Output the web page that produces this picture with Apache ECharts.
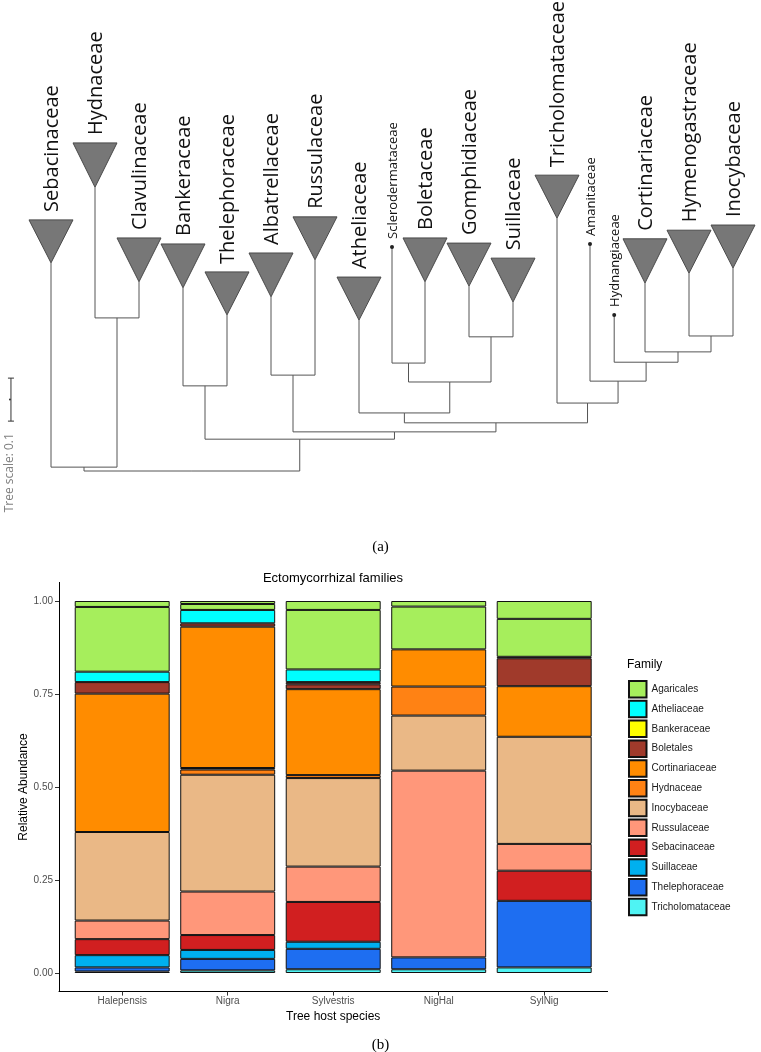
<!DOCTYPE html>
<html>
<head>
<meta charset="utf-8">
<title>Ectomycorrhizal families</title>
<script src="https://cdn.jsdelivr.net/npm/echarts@6.0.0/dist/echarts.min.js"></script>
<style>
  html, body { margin: 0; padding: 0; background: #fff; }
  #chart { width: 761px; height: 1052px; }
</style>
</head>
<body>
<div id="chart"></div>
<script>
// ---------- (a) phylogenetic tree ----------
const leafNames = ['Sebacinaceae', 'Hydnaceae', 'Clavulinaceae', 'Bankeraceae', 'Thelephoraceae',
  'Albatrellaceae', 'Russulaceae', 'Atheliaceae', 'Sclerodermataceae', 'Boletaceae', 'Gomphidiaceae',
  'Suillaceae', 'Tricholomataceae', 'Amanitaceae', 'Hydnangiaceae', 'Cortinariaceae',
  'Hymenogastraceae', 'Inocybaceae'];
// order of the leaves along the tree (one slot per collapsed clade)
const leafSlot = [0, 1, 2, 3, 4, 5, 6, 7, 7.75, 8.5, 9.5, 10.5, 11.5, 12.25, 12.8, 13.5, 14.5, 15.5];
// distance from root to leaf tip, and to the top of the collapsed clade (null = single taxon)
const tipDepth = [0.484, 0.660, 0.440, 0.426, 0.363, 0.405, 0.491, 0.351, 0.521, 0.440, 0.430,
  0.393, 0.588, 0.528, 0.363, 0.437, 0.460, 0.472];
const cladeDepth = [0.584, 0.763, 0.542, 0.528, 0.463, 0.507, 0.591, 0.451, null, 0.542, 0.530,
  0.495, 0.688, null, null, 0.540, 0.560, 0.572];
// internal nodes: [id, child A, child B, depth]
const treeNodes = [
  ['n1', 'Hydnaceae', 'Clavulinaceae', 0.356],
  ['n2', 'Sebacinaceae', 'n1', 0.009],
  ['n3', 'Bankeraceae', 'Thelephoraceae', 0.198],
  ['n4', 'Albatrellaceae', 'Russulaceae', 0.223],
  ['n5', 'Sclerodermataceae', 'Boletaceae', 0.251],
  ['n6', 'Gomphidiaceae', 'Suillaceae', 0.312],
  ['n7', 'n5', 'n6', 0.207],
  ['n8', 'Atheliaceae', 'n7', 0.135],
  ['n9', 'Hymenogastraceae', 'Inocybaceae', 0.314],
  ['n10', 'Cortinariaceae', 'n9', 0.277],
  ['n11', 'Hydnangiaceae', 'n10', 0.253],
  ['n12', 'Amanitaceae', 'n11', 0.209],
  ['n13', 'Tricholomataceae', 'n12', 0.158],
  ['n14', 'n8', 'n13', 0.112],
  ['n15', 'n4', 'n14', 0.091],
  ['n16', 'n3', 'n15', 0.074],
  ['root', 'n2', 'n16', 0]
];
const treeScale = 0.1;
const scaleBarSlot = -0.91;
const scaleBarBase = 0.116;

// ---------- (b) stacked bars ----------
const hosts = ['Halepensis', 'Nigra', 'Sylvestris', 'NigHal', 'SylNig'];
const families = ['Agaricales', 'Atheliaceae', 'Bankeraceae', 'Boletales', 'Cortinariaceae',
  'Hydnaceae', 'Inocybaceae', 'Russulaceae', 'Sebacinaceae', 'Suillaceae', 'Thelephoraceae',
  'Tricholomataceae'];
const familyColors = ['#A6EE5C', '#00FFFF', '#FFFF00', '#A03A2B', '#FF8C00', '#FF8214',
  '#EAB886', '#FF977A', '#D11F20', '#00B0EF', '#1E6EF1', '#4FF3F3'];
// OTU segments per host (Halepensis .. SylNig), bottom to top inside each family
const agaricales       = [[0.174, 0.016], [0.016, 0.008], [0.160, 0.024], [0.115, 0.015], [0.102, 0.048]];
const atheliaceae      = [[0.028], [0.036], [0.034], [], []];
const bankeraceae      = [[], [], [], [], []];
const boletales        = [[0.031], [0.009], [0.013, 0.006], [], [0.075, 0.004]];
const cortinariaceae   = [[0.372], [0.004, 0.380], [0.231], [0.100], [0.136]];
const hydnaceae        = [[], [0.014], [0.008], [0.078], []];
const inocybaceae      = [[0.238], [0.314], [0.238], [0.148], [0.288]];
const russulaceae      = [[0.050], [0.117], [0.095], [0.502], [0.072]];
const sebacinaceae     = [[0.043], [0.040], [0.107], [], [0.081]];
const suillaceae       = [[0.033], [0.024], [0.019], [], []];
const thelephoraceae   = [[0.004, 0.011], [0.031], [0.055], [0.032], [0.179]];
const tricholomataceae = [[], [0.007], [0.010], [0.010], [0.015]];
const segments = [agaricales, atheliaceae, bankeraceae, boletales, cortinariaceae, hydnaceae,
  inocybaceae, russulaceae, sebacinaceae, suillaceae, thelephoraceae, tricholomataceae];
const yTicks = [0, 0.25, 0.5, 0.75, 1];

// tree layout: parent sits midway between its children
const nodeById = {};
leafNames.forEach((n, i) => { nodeById[n] = { x: leafSlot[i], d: tipDepth[i] }; });
const branchData = [];
treeNodes.forEach(([id, a, b, depth]) => {
  const A = nodeById[a], B = nodeById[b];
  const node = { x: (A.x + B.x) / 2, d: depth };
  nodeById[id] = node;
  branchData.push([A.x, A.d, node.x, depth], [B.x, B.d, node.x, depth]);
});
const cladeData = [], dotData = [], labelData = [];
leafNames.forEach((n, i) => {
  if (cladeDepth[i] !== null) cladeData.push([leafSlot[i], tipDepth[i], cladeDepth[i]]);
  else dotData.push([leafSlot[i], tipDepth[i]]);
  labelData.push([leafSlot[i], cladeDepth[i] !== null ? cladeDepth[i] : tipDepth[i]]);
});

// one bar series per OTU slot, stacked bottom (Tricholomataceae) to top (Agaricales)
const barSeries = [];
for (let f = families.length - 1; f >= 0; f--) {
  const seg = segments[f];
  const n = Math.max(1, ...seg.map(s => s.length));
  for (let k = 0; k < n; k++) {
    barSeries.push({
      name: families[f],
      type: 'bar',
      stack: 'abund',
      xAxisIndex: 1,
      yAxisIndex: 1,
      barWidth: '90%',
      data: seg.map(s => (s[k] === undefined ? '-' : s[k])),
      itemStyle: { color: familyColors[f], borderColor: '#111', borderWidth: 1 },
      emphasis: { disabled: true }
    });
  }
}

const treeLine = '#555';
const sans = 'Liberation Sans';

const chart = echarts.init(document.getElementById('chart'));
chart.setOption({
  animation: false,
  backgroundColor: '#fff',
  title: [
    { text: 'Ectomycorrhizal families', left: 333, top: 572, textAlign: 'center', padding: 0,
      textStyle: { fontFamily: sans, fontSize: 13, fontWeight: 'normal', color: '#000' } },
    { text: 'Family', left: 627, top: 659, padding: 0,
      textStyle: { fontFamily: sans, fontSize: 12, fontWeight: 'normal', color: '#000' } },
    { text: '(a)', left: 380.5, top: 540, textAlign: 'center', padding: 0,
      textStyle: { fontFamily: 'Liberation Serif', fontSize: 15, fontWeight: 'normal', color: '#000' } },
    { text: '(b)', left: 380.5, top: 1038, textAlign: 'center', padding: 0,
      textStyle: { fontFamily: 'Liberation Serif', fontSize: 15, fontWeight: 'normal', color: '#000' } }
  ],
  legend: {
    data: families,
    orient: 'vertical',
    left: 628,
    top: 680,
    padding: 0,
    itemWidth: 17.5,
    itemHeight: 16.5,
    itemGap: 1.3,
    icon: 'rect',
    selectedMode: false,
    textStyle: { fontFamily: sans, fontSize: 10, color: '#1a1a1a' }
  },
  grid: [
    { left: 59, top: 582.4, width: 548.6, height: 409.2, outerBoundsMode: 'none' },
    { left: 69.45, top: 582.4, width: 527.5, height: 409.2, outerBoundsMode: 'none' },
    { left: 7, top: 41, width: 748, height: 430, outerBoundsMode: 'none' }
  ],
  xAxis: [
    { gridIndex: 0, type: 'value', min: 0, max: 1,
      axisLine: { show: true, onZero: false, lineStyle: { color: '#000', width: 1 } },
      axisTick: { show: false }, axisLabel: { show: false }, splitLine: { show: false } },
    { gridIndex: 1, type: 'category', data: hosts,
      axisLine: { show: false, onZero: false },
      axisTick: { show: true, alignWithLabel: true, length: 4, lineStyle: { color: '#333' } },
      axisLabel: { margin: 5, fontFamily: sans, fontSize: 10, color: '#4d4d4d' },
      splitLine: { show: false },
      name: 'Tree host species', nameLocation: 'middle', nameGap: 19, nameMoveOverlap: false,
      nameTextStyle: { fontFamily: sans, fontSize: 12, color: '#000' } },
    { gridIndex: 2, type: 'value', min: -1, max: 16, show: false }
  ],
  yAxis: [
    { gridIndex: 0, type: 'value', min: -0.05, max: 1.05,
      axisLine: { show: true, onZero: false, lineStyle: { color: '#000', width: 1 } },
      axisTick: { show: true, length: 4, customValues: yTicks, lineStyle: { color: '#333' } },
      axisLabel: { customValues: yTicks, formatter: v => v.toFixed(2), margin: 6,
        fontFamily: sans, fontSize: 10, color: '#4d4d4d' },
      splitLine: { show: false },
      name: 'Relative Abundance', nameLocation: 'middle', nameRotate: 90, nameGap: 29,
      nameMoveOverlap: false,
      nameTextStyle: { fontFamily: sans, fontSize: 12, color: '#000' } },
    { gridIndex: 1, type: 'value', min: -0.05, max: 1.05, show: false },
    { gridIndex: 2, type: 'value', min: 0, max: 1, show: false }
  ],
  series: [
    {
      type: 'custom', name: 'branches', coordinateSystem: 'cartesian2d',
      xAxisIndex: 2, yAxisIndex: 2, clip: false, silent: true,
      data: branchData,
      renderItem: (params, api) => {
        const p1 = api.coord([api.value(0), api.value(1)]);
        const p2 = api.coord([api.value(0), api.value(3)]);
        const p3 = api.coord([api.value(2), api.value(3)]);
        return { type: 'polyline', shape: { points: [p1, p2, p3] },
          style: { stroke: treeLine, lineWidth: 1, fill: null } };
      }
    },
    {
      type: 'custom', name: 'clades', coordinateSystem: 'cartesian2d',
      xAxisIndex: 2, yAxisIndex: 2, clip: false, silent: true,
      data: cladeData,
      renderItem: (params, api) => {
        const x = api.value(0);
        const a = api.coord([x, api.value(1)]);
        const l = api.coord([x - 0.5, api.value(2)]);
        const r = api.coord([x + 0.5, api.value(2)]);
        return { type: 'polygon', shape: { points: [l, r, a] },
          style: { fill: '#777', stroke: '#4a4a4a', lineWidth: 1 } };
      }
    },
    {
      type: 'custom', name: 'single taxa', coordinateSystem: 'cartesian2d',
      xAxisIndex: 2, yAxisIndex: 2, clip: false, silent: true,
      data: dotData,
      renderItem: (params, api) => {
        const p = api.coord([api.value(0), api.value(1)]);
        return { type: 'circle', shape: { cx: p[0], cy: p[1], r: 2 }, style: { fill: '#222' } };
      }
    },
    {
      type: 'custom', name: 'leaf labels', coordinateSystem: 'cartesian2d',
      xAxisIndex: 2, yAxisIndex: 2, clip: false, silent: true,
      data: labelData,
      renderItem: (params, api) => {
        const i = params.dataIndex;
        const p = api.coord([api.value(0), api.value(1)]);
        const small = cladeDepth[i] === null;
        return { type: 'text', x: p[0] + 1, y: p[1] - 8, rotation: Math.PI / 2,
          style: { text: leafNames[i], fontFamily: 'Open Sans', fontSize: small ? 13 : 20,
            fill: '#111', align: 'left', verticalAlign: 'middle' } };
      }
    },
    {
      type: 'custom', name: 'tree scale', coordinateSystem: 'cartesian2d',
      xAxisIndex: 2, yAxisIndex: 2, clip: false, silent: true,
      data: [[scaleBarSlot, scaleBarBase, treeScale]],
      renderItem: (params, api) => {
        const x = api.value(0), b = api.value(1), s = api.value(2);
        const lo = api.coord([x, b]);
        const hi = api.coord([x, b + s]);
        const mid = api.coord([x, b + s / 2]);
        const ln = (x1, y1, x2, y2) => ({ type: 'line', shape: { x1, y1, x2, y2 },
          style: { stroke: '#333', lineWidth: 1 } });
        return { type: 'group', children: [
          ln(lo[0], lo[1], hi[0], hi[1]),
          ln(lo[0] - 3, lo[1], lo[0] + 3, lo[1]),
          ln(hi[0] - 3, hi[1], hi[0] + 3, hi[1]),
          { type: 'circle', shape: { cx: mid[0] - 1, cy: mid[1], r: 1 }, style: { fill: '#333' } },
          { type: 'text', x: lo[0] - 1, y: lo[1] + 12, rotation: Math.PI / 2,
            style: { text: 'Tree scale: ' + s, fontFamily: 'Open Sans', fontSize: 12,
              fill: '#808080', align: 'right', verticalAlign: 'middle' } }
        ] };
      }
    }
  ].concat(barSeries)
});
</script>
</body>
</html>
